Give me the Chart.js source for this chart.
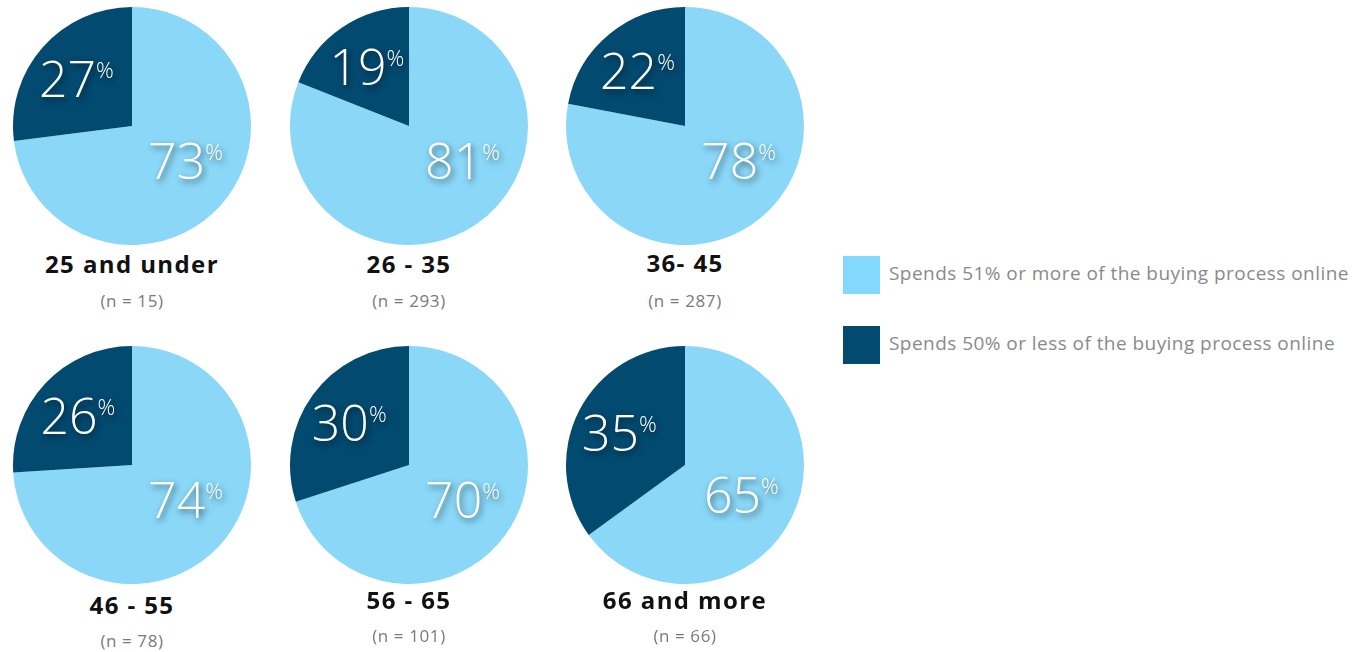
<!DOCTYPE html>
<html>
<head>
<meta charset="utf-8">
<script src="https://cdn.jsdelivr.net/npm/chart.js@4"></script>
<style>
  html, body { margin: 0; padding: 0; background: #fff; }
  body { width: 1368px; height: 652px; position: relative; overflow: hidden; font-family: "Open Sans", sans-serif; }
  .pie { position: absolute; width: 240px; height: 240px; }
  .title { position: absolute; width: 300px; text-align: center; font-weight: 700; font-size: 24px; letter-spacing: 1.4px; color: #111; font-family: "Open Sans", sans-serif; line-height: 1; }
  .n { position: absolute; width: 300px; text-align: center; font-size: 17px; letter-spacing: 0.6px; color: #7a7a7a; font-family: "Open Sans", sans-serif; line-height: 1; }
  .legend { position: absolute; left: 843px; }
  .legend .item { position: absolute; left: 0; height: 38px; white-space: nowrap; }
  .legend .sw { position: absolute; left: 0; top: 0; width: 37px; height: 38px; }
  .legend .lt { position: absolute; left: 46px; top: 8px; font-size: 19px; letter-spacing: 0.45px; color: #8a8a8a; font-family: "Open Sans", sans-serif; line-height: 1; }
</style>
</head>
<body>
<script>
// ---- data ----
const groups = ['25 and under', '26 - 35', '36- 45', '46 - 55', '56 - 65', '66 and more'];
const sampleSizes = [15, 293, 287, 78, 101, 66];
const spendsMoreOnline = [73, 81, 78, 74, 70, 65];
const spendsLessOnline = [27, 19, 22, 26, 30, 35];
const seriesNames = ['Spends 51% or more of the buying process online', 'Spends 50% or less of the buying process online'];
const seriesColors = ['#8AD7F7', '#034A70'];
const legendColors = ['#82D8FD', '#034A70'];

// ---- layout ----
const centersX = [132, 409, 685];
const centersY = [126, 465];
const titleY = [[252, 252, 251], [593, 588, 588]];
const nY = [[292, 292, 292], [632, 627, 627]];

const labelPlugin = {
  id: 'pctLabels',
  afterDatasetsDraw(chart) {
    const ctx = chart.ctx;
    const meta = chart.getDatasetMeta(0);
    const ds = chart.data.datasets[0];
    meta.data.forEach((arc, i) => {
      const p = arc.getProps(['x', 'y', 'startAngle', 'endAngle', 'outerRadius'], true);
      let mid = (p.startAngle + p.endAngle) / 2;
      let frac;
      if (i === 0) {
        const fromTop = mid + Math.PI / 2;
        const maxFromTop = (122 / 180) * Math.PI;
        if (fromTop > maxFromTop) mid = maxFromTop - Math.PI / 2;
        frac = 0.55;
      } else {
        frac = 0.6;
      }
      const lx = p.x + Math.cos(mid) * p.outerRadius * frac;
      const ly = p.y + Math.sin(mid) * p.outerRadius * frac;
      const num = String(ds.data[i]);
      const bigFont = '300 50px "Open Sans", sans-serif';
      const smallFont = '300 22px "Open Sans", sans-serif';
      ctx.save();
      ctx.font = bigFont;
      const wNum = ctx.measureText(num).width;
      ctx.font = smallFont;
      const wPct = ctx.measureText('%').width;
      const total = wNum + wPct;
      const x0 = lx - total / 2 - 2;
      ctx.shadowColor = 'rgba(0,0,0,0.55)';
      ctx.shadowBlur = 6;
      ctx.shadowOffsetX = 2;
      ctx.shadowOffsetY = 3;
      ctx.fillStyle = '#ffffff';
      ctx.textBaseline = 'alphabetic';
      ctx.textAlign = 'left';
      ctx.font = bigFont;
      const base = ly + 18;
      ctx.fillText(num, x0, base);
      ctx.font = smallFont;
      ctx.fillText('%', x0 + wNum, base - 19);
      ctx.restore();
    });
  }
};

groups.forEach((g, k) => {
  const col = k % 3, row = Math.floor(k / 3);
  const cx = centersX[col], cy = centersY[row];
  const wrap = document.createElement('div');
  wrap.className = 'pie';
  wrap.style.left = (cx - 120) + 'px';
  wrap.style.top = (cy - 120) + 'px';
  const cv = document.createElement('canvas');
  wrap.appendChild(cv);
  document.body.appendChild(wrap);

  const t = document.createElement('div');
  t.className = 'title';
  t.textContent = g;
  t.style.left = (cx - 150) + 'px';
  t.style.top = titleY[row][col] + 'px';
  document.body.appendChild(t);

  const n = document.createElement('div');
  n.className = 'n';
  n.textContent = '(n = ' + sampleSizes[k] + ')';
  n.style.left = (cx - 150) + 'px';
  n.style.top = nY[row][col] + 'px';
  document.body.appendChild(n);

  new Chart(cv, {
    type: 'pie',
    data: {
      labels: seriesNames,
      datasets: [{
        data: [spendsMoreOnline[k], spendsLessOnline[k]],
        backgroundColor: seriesColors,
        borderWidth: 0
      }]
    },
    options: {
      responsive: true,
      maintainAspectRatio: false,
      animation: false,
      layout: { padding: 1 },
      plugins: { legend: { display: false }, tooltip: { enabled: false } }
    },
    plugins: [labelPlugin]
  });
});

// legend
const leg = document.createElement('div');
leg.className = 'legend';
leg.style.top = '256px';
seriesNames.forEach((s, i) => {
  const it = document.createElement('div');
  it.className = 'item';
  it.style.top = (i * 70) + 'px';
  const sw = document.createElement('div');
  sw.className = 'sw';
  sw.style.background = legendColors[i];
  const lt = document.createElement('div');
  lt.className = 'lt';
  lt.textContent = s;
  it.appendChild(sw);
  it.appendChild(lt);
  leg.appendChild(it);
});
document.body.appendChild(leg);
</script>
</body>
</html>
